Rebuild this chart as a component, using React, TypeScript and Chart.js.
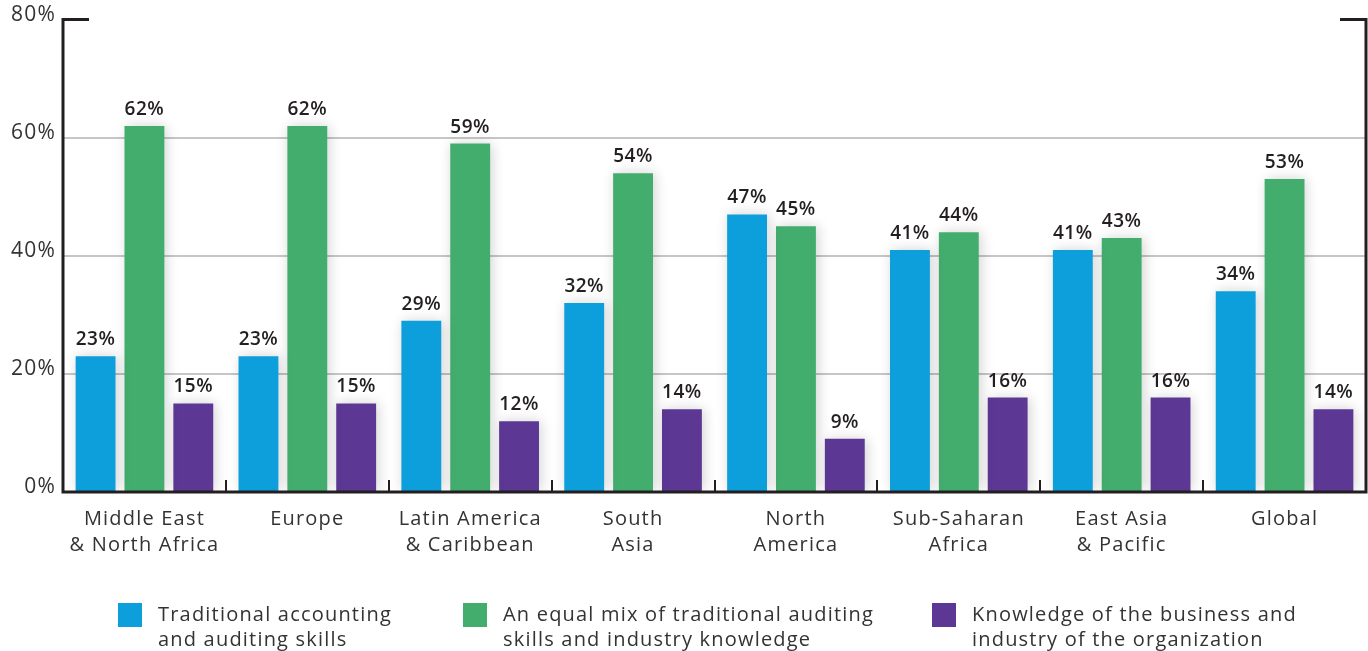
import React, { useEffect, useRef } from "react";
import { Chart, registerables } from "chart.js";

Chart.register(...registerables);

const categories = [
  ["Middle East", "& North Africa"],
  ["Europe"],
  ["Latin America", "& Caribbean"],
  ["South", "Asia"],
  ["North", "America"],
  ["Sub-Saharan", "Africa"],
  ["East Asia", "& Pacific"],
  ["Global"],
];
const traditional = [23, 23, 29, 32, 47, 41, 41, 34];
const equalMix = [62, 62, 59, 54, 45, 44, 43, 53];
const knowledge = [15, 15, 12, 14, 9, 16, 16, 14];
const seriesLabels = [
  ["Traditional accounting", "and auditing skills"],
  ["An equal mix of traditional auditing", "skills and industry knowledge"],
  ["Knowledge of the business and", "industry of the organization"],
];
const seriesColors = ["#0c9fdb", "#43ad6e", "#5c3894"];
const yTickValues = [0, 20, 40, 60, 80];

const FONT = "'Open Sans', sans-serif";
const INK = "#231f20";
const TEXT = "#333333";
const SPACING = "1.2px";

const decorPlugin = {
  id: "decor",
  beforeDraw(chart: any) {
    chart.ctx.letterSpacing = SPACING;
  },
  beforeDatasetsDraw(chart: any) {
    const ctx = chart.ctx;
    ctx.save();
    ctx.shadowColor = "rgba(0,0,0,0.18)";
    ctx.shadowBlur = 12;
    ctx.shadowOffsetX = 2;
    ctx.shadowOffsetY = 0;
  },
  afterDatasetsDraw(chart: any) {
    const ctx = chart.ctx;
    ctx.restore();
    ctx.save();
    ctx.font = `600 19px ${FONT}`;
    ctx.letterSpacing = "0.5px";
    ctx.fillStyle = INK;
    ctx.textAlign = "center";
    ctx.textBaseline = "alphabetic";
    chart.data.datasets.forEach((ds: any, i: number) => {
      const meta = chart.getDatasetMeta(i);
      meta.data.forEach((bar: any, j: number) => {
        ctx.fillText(`${ds.data[j]}%`, bar.x, bar.y - 11);
      });
    });
    const { left, right, top, bottom } = chart.chartArea;
    ctx.strokeStyle = INK;
    ctx.lineWidth = 3;
    ctx.lineJoin = "miter";
    ctx.beginPath();
    ctx.moveTo(left + 26, top);
    ctx.lineTo(left, top);
    ctx.lineTo(left, bottom);
    ctx.lineTo(right, bottom);
    ctx.lineTo(right, top);
    ctx.lineTo(right - 26, top);
    ctx.stroke();
    const xs = chart.scales.x;
    ctx.lineWidth = 2;
    for (let i = 0; i < categories.length - 1; i++) {
      const px = Math.round((xs.getPixelForTick(i) + xs.getPixelForTick(i + 1)) / 2);
      ctx.beginPath();
      ctx.moveTo(px, bottom);
      ctx.lineTo(px, bottom - 12);
      ctx.stroke();
    }
    ctx.restore();
  },
  afterDraw(chart: any) {
    const ctx = chart.ctx;
    const legendX = [118, 463, 932];
    const boxTop = 603;
    ctx.save();
    ctx.font = `400 20px ${FONT}`;
    ctx.letterSpacing = SPACING;
    ctx.textAlign = "left";
    ctx.textBaseline = "middle";
    seriesLabels.forEach((lines, i) => {
      ctx.fillStyle = seriesColors[i];
      ctx.fillRect(legendX[i], boxTop, 24, 24);
      ctx.fillStyle = TEXT;
      lines.forEach((line, k) => {
        ctx.fillText(line, legendX[i] + 40, 615 + k * 25);
      });
    });
    ctx.restore();
  },
};

export default function App() {
  const ref = useRef<HTMLCanvasElement>(null);
  useEffect(() => {
    document.body.style.margin = "0";
    const canvas = ref.current!;
    const chart = new Chart(canvas, {
      type: "bar",
      data: {
        labels: categories,
        datasets: [
          { label: seriesLabels[0].join(" "), data: traditional, backgroundColor: seriesColors[0] },
          { label: seriesLabels[1].join(" "), data: equalMix, backgroundColor: seriesColors[1] },
          { label: seriesLabels[2].join(" "), data: knowledge, backgroundColor: seriesColors[2] },
        ],
      },
      options: {
        responsive: false,
        animation: false,
        devicePixelRatio: 1,
        layout: { padding: { left: 0, right: 2, top: 18, bottom: 0 } },
        datasets: { bar: { categoryPercentage: 0.9, barPercentage: 0.816 } },
        plugins: { legend: { display: false }, tooltip: { enabled: false } },
        scales: {
          x: {
            grid: { display: false, drawTicks: false },
            border: { display: false },
            ticks: {
              font: { family: FONT, size: 20, lineHeight: 1.3 },
              color: TEXT,
              padding: 14,
              maxRotation: 0,
              autoSkip: false,
            },
            afterFit(s: any) {
              s.height = 159;
            },
          },
          y: {
            min: 0,
            max: 80,
            afterBuildTicks(s: any) {
              s.ticks = yTickValues.map((v) => ({ value: v }));
            },
            grid: {
              drawTicks: false,
              lineWidth: 2,
              color: (c: any) =>
                c.tick && c.tick.value > 0 && c.tick.value < 80 ? "#c6c6c6" : "rgba(0,0,0,0)",
            },
            border: { display: false },
            ticks: {
              callback: (v: any) => `${v}%`,
              font: { family: FONT, size: 21 },
              color: TEXT,
              padding: 7,
              labelOffset: -5,
            },
            afterFit(s: any) {
              s.width = 63;
            },
          },
        },
      },
      plugins: [decorPlugin],
    });
    return () => chart.destroy();
  }, []);
  return <canvas ref={ref} width={1368} height={651} style={{ display: "block" }} />;
}
